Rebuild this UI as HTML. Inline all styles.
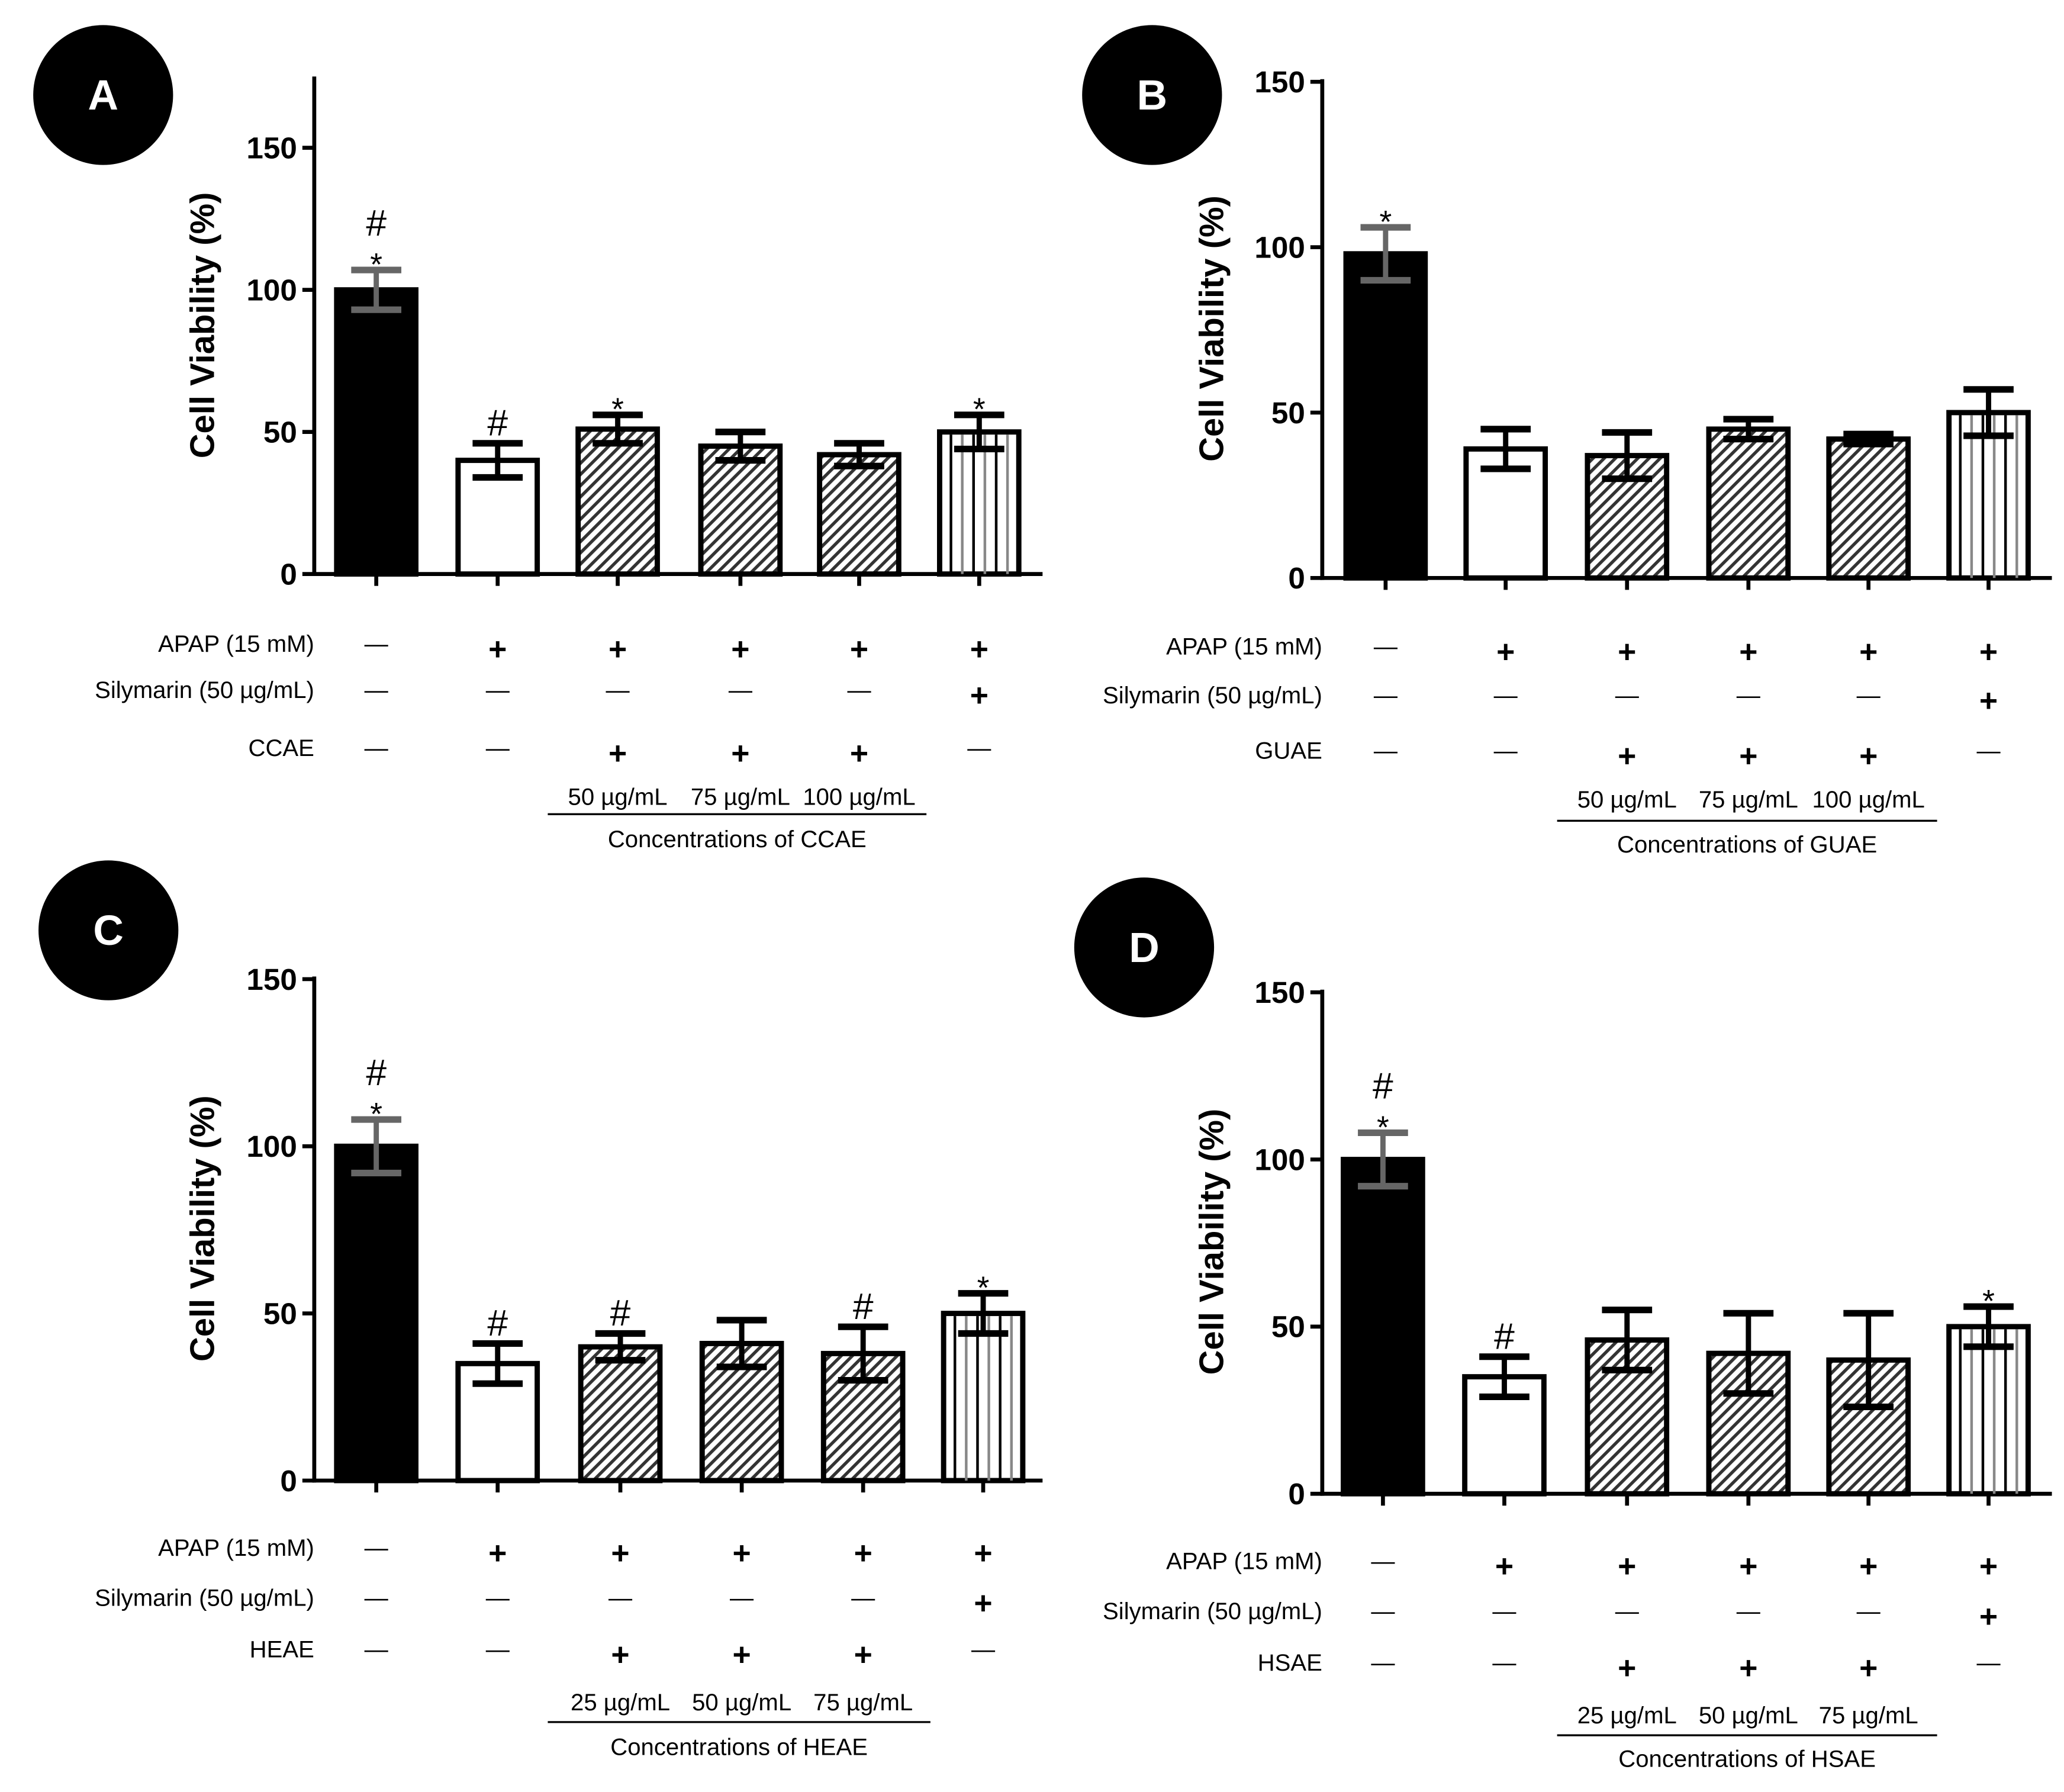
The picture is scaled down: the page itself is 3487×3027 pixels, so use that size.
<!DOCTYPE html>
<html><head><meta charset="utf-8"><style>
html,body{margin:0;padding:0;background:#fff;}
svg{display:block;}
text{font-family:"Liberation Sans",Arial,sans-serif;}
</style></head><body>
<svg id="fig" width="3487" height="3027" viewBox="0 0 1564 1358" xmlns="http://www.w3.org/2000/svg">
<defs>
<pattern id="hatch" patternUnits="userSpaceOnUse" width="6" height="6" patternTransform="rotate(45)">
<rect width="6" height="6" fill="#fff"/><rect x="0" y="0" width="2.4" height="6" fill="#333"/>
</pattern>
</defs>
</svg>
<script>
// Panel data
const categories = ["Control","APAP","Ext low","Ext mid","Ext high","Silymarin"];
const valuesA = [100, 40, 51, 45, 42, 50];
const errorsA = [7, 6, 5, 5, 4, 6];
const valuesB = [98, 39, 37, 45, 42, 50];
const errorsB = [8, 6, 7, 3, 1.5, 7];
const valuesC = [100, 35, 40, 41, 38, 50];
const errorsC = [8, 6, 4, 7, 8, 6];
const valuesD = [100, 35, 46, 42, 40, 50];
const errorsD = [8, 6, 9, 12, 14, 6];
const marksA = [["#","*"],["#"],["*"],[],[],["*"]];
const marksB = [["*"],[],[],[],[],[]];
const marksC = [["#","*"],["#"],["#"],[],["#"],["*"]];
const marksD = [["#","*"],["#"],[],[],[],["*"]];
const yTicks = [0, 50, 100, 150];
const concA = ["50 µg/mL","75 µg/mL","100 µg/mL"];
const concB = ["50 µg/mL","75 µg/mL","100 µg/mL"];
const concC = ["25 µg/mL","50 µg/mL","75 µg/mL"];
const concD = ["25 µg/mL","50 µg/mL","75 µg/mL"];

const svg=document.getElementById('fig');
const NS="http://www.w3.org/2000/svg";
function el(t,a,p){const e=document.createElementNS(NS,t);for(const k in a)e.setAttribute(k,a[k]);(p||svg).appendChild(e);return e;}
function txt(x,y,s,size,opts,p){const e=el('text',Object.assign({x:x,y:y,'font-size':size,fill:'#000'},opts||{}),p);e.textContent=s;return e;}

const panels=[
 {id:'a',letter:'A',cx:78,cy:72,ax:238,x1:790,y0:435,top:58,u:(435-112)/150,centers:[285,377,468,561,651,742],vals:valuesA,errs:errorsA,marks:marksA,conc:concA,ext:'CCAE',rows:[488,523,567],concY:604,lineY:617,lx:[415,702],titleY:636,ytx:152},
 {id:'b',letter:'B',cx:873,cy:72,ax:1002,x1:1555,y0:438,top:60,u:(438-62)/150,centers:[1050,1141,1233,1325,1416,1507],vals:valuesB,errs:errorsB,marks:marksB,conc:concB,ext:'GUAE',rows:[490,527,569],concY:606,lineY:622,lx:[1180,1468],titleY:640,ytx:917},
 {id:'c',letter:'C',cx:82,cy:705,ax:238,x1:790,y0:1122,top:740,u:(1122-742)/150,centers:[285,377,470,562,654,745],vals:valuesC,errs:errorsC,marks:marksC,conc:concC,ext:'HEAE',rows:[1173,1211,1250],concY:1290,lineY:1305,lx:[415,705],titleY:1324,ytx:152},
 {id:'d',letter:'D',cx:867,cy:718,ax:1002,x1:1555,y0:1132,top:750,u:(1132-752)/150,centers:[1048,1140,1233,1325,1416,1507],vals:valuesD,errs:errorsD,marks:marksD,conc:concD,ext:'HSAE',rows:[1183,1221,1260],concY:1300,lineY:1315,lx:[1180,1468],titleY:1333,ytx:917}
];
const apapSigns=['—','+','+','+','+','+'];
const silySigns=['—','—','—','—','—','+'];
const extSigns=['—','—','+','+','+','—'];

panels.forEach(P=>{
 const g=el('g',{});
 
 
 const yS=v=>P.y0-v*P.u;
 const b=el('g',{},g);
 
 
 el('circle',{cx:P.cx,cy:P.cy,r:53,fill:'#000'},b);
 txt(P.cx,P.cy+11,P.letter,32,{'font-weight':'bold',fill:'#fff','text-anchor':'middle'},b);
 const ya=el('line',{x1:P.ax,y1:P.top,x2:P.ax,y2:P.y0+1.5,stroke:'#000','stroke-width':3},g);
 
 
 const xa=el('line',{x1:P.ax-1.5,y1:P.y0,x2:P.x1,y2:P.y0,stroke:'#000','stroke-width':3},g);
 
 
 yTicks.forEach(t=>{
  el('line',{x1:P.ax-9,y1:yS(t),x2:P.ax,y2:yS(t),stroke:'#000','stroke-width':3},g);
  const tl=txt(P.ax-13,yS(t)+8,String(t),23,{'font-weight':'bold','text-anchor':'end'},g);
  
  
 });
 const yt=txt(0,0,'Cell Viability (%)',26,{'font-weight':'bold','text-anchor':'middle',transform:`translate(${P.ytx+10},${(P.y0+P.top)/2}) rotate(-90)`},g);
 
 
 P.vals.forEach((v,i)=>{
  const c=P.centers[i], w=60, top=yS(v);
  const bg=el('g',{},g);
  
  
  el('line',{x1:c,y1:P.y0,x2:c,y2:P.y0+9,stroke:'#000','stroke-width':3},g);
  let fill='#fff';
  if(i===0)fill='#000'; else if(i>=2&&i<=4)fill='url(#hatch)';
  el('rect',{x:c-w/2,y:top,width:w,height:P.y0-top,fill:fill,stroke:'#000','stroke-width':4},bg);
  if(i===5){for(let k=1;k<=6;k++){const xx=c-w/2+k*w/7;el('line',{x1:xx,y1:top+2,x2:xx,y2:P.y0,stroke:k%2?'#000':'#888','stroke-width':2},bg);}}
  const e=P.errs[i], col=i===0?'#666':'#000';
  const eb=el('g',{},g);
  
  
  el('line',{x1:c,y1:yS(v+e),x2:c,y2:yS(v-e),stroke:col,'stroke-width':4},eb);
  el('line',{x1:c-19,y1:yS(v+e),x2:c+19,y2:yS(v+e),stroke:col,'stroke-width':5},eb);
  el('line',{x1:c-19,y1:yS(v-e),x2:c+19,y2:yS(v-e),stroke:col,'stroke-width':5},eb);
  let y=yS(v+e)-6;
  const m=P.marks[i].slice().reverse();
  m.forEach(s=>{
   const t=s==='*'?txt(c,y+10,'*',24,{'text-anchor':'middle'},g):txt(c,y,'#',28,{'text-anchor':'middle'},g);
   
   
   y-=s==='*'?20:26;
  });
 });
 const labels=['APAP (15 mM)','Silymarin (50 µg/mL)',P.ext];
 const signs=[apapSigns,silySigns,extSigns];
 labels.forEach((l,r)=>{
  const t=txt(P.ax,P.rows[r]+6,l,18,{'text-anchor':'end'},g);
  
  
  P.centers.forEach((c,i)=>{
   const s=signs[r][i];
   const st=txt(c,P.rows[r]+(s==='+'?12:6),s,s==='+'?24:18,{'text-anchor':'middle','font-weight':s==='+'?'bold':'normal'},g);
   
   
  });
 });
 P.conc.forEach((s,k)=>{
  const t=txt(P.centers[2+k],P.concY+6,s,18,{'text-anchor':'middle'},g);
  
  
 });
 el('line',{x1:P.lx[0],y1:P.lineY,x2:P.lx[1],y2:P.lineY,stroke:'#000','stroke-width':1.5},g);
 const ct=txt((P.lx[0]+P.lx[1])/2,P.titleY+6,'Concentrations of '+P.ext,18,{'text-anchor':'middle'},g);
 
 
});
</script>
</body></html>
